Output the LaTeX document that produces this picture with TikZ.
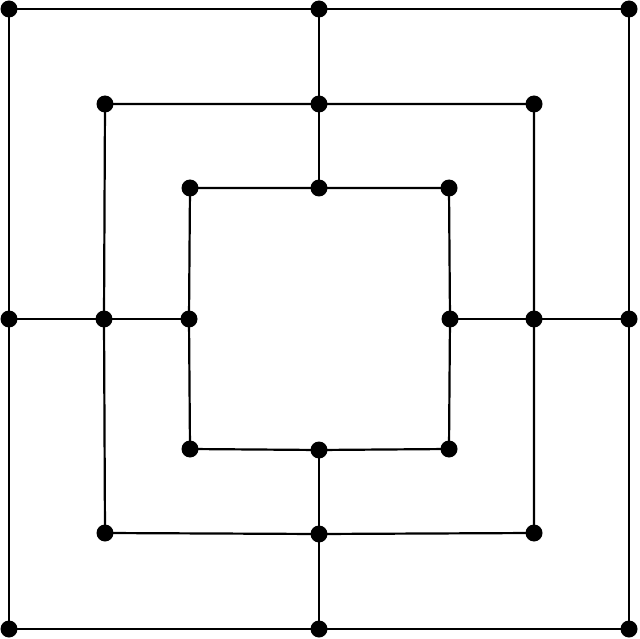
\documentclass[tikz,border=0pt]{standalone}
\begin{document}
\begin{tikzpicture}[x=1pt,y=-1pt,
  dot/.style={circle,fill=black,inner sep=0pt,minimum size=17pt},
  ln/.style={line width=2.2pt,black}]
\useasboundingbox (0,0) rectangle (640,639);
% outer
\node[dot] (o1) at (9,9) {};
\node[dot] (o2) at (319,9) {};
\node[dot] (o3) at (629,9) {};
\node[dot] (o4) at (629,319) {};
\node[dot] (o5) at (629,629) {};
\node[dot] (o6) at (319,629) {};
\node[dot] (o7) at (9,629) {};
\node[dot] (o8) at (9,319) {};
% middle
\node[dot] (m1) at (105,104) {};
\node[dot] (m2) at (319,104) {};
\node[dot] (m3) at (534,104) {};
\node[dot] (m4) at (534,319) {};
\node[dot] (m5) at (534,533) {};
\node[dot] (m6) at (319,534) {};
\node[dot] (m7) at (105,533) {};
\node[dot] (m8) at (104,319) {};
% inner
\node[dot] (i1) at (190,188) {};
\node[dot] (i2) at (319,188) {};
\node[dot] (i3) at (449,188) {};
\node[dot] (i4) at (450,319) {};
\node[dot] (i5) at (449,449) {};
\node[dot] (i6) at (319,450) {};
\node[dot] (i7) at (190,449) {};
\node[dot] (i8) at (189,319) {};
\begin{scope}[on background layer/.style={}]
\end{scope}
\draw[ln] (o1.center) -- (o2.center) -- (o3.center) -- (o4.center) -- (o5.center) -- (o6.center) -- (o7.center) -- (o8.center) -- cycle;
\draw[ln] (m1.center) -- (m2.center) -- (m3.center) -- (m4.center) -- (m5.center) -- (m6.center) -- (m7.center) -- (m8.center) -- cycle;
\draw[ln] (i1.center) -- (i2.center) -- (i3.center) -- (i4.center) -- (i5.center) -- (i6.center) -- (i7.center) -- (i8.center) -- cycle;
\draw[ln] (o2.center) -- (m2.center) -- (i2.center);
\draw[ln] (o4.center) -- (m4.center) -- (i4.center);
\draw[ln] (o6.center) -- (m6.center) -- (i6.center);
\draw[ln] (o8.center) -- (m8.center) -- (i8.center);
\end{tikzpicture}
\end{document}
